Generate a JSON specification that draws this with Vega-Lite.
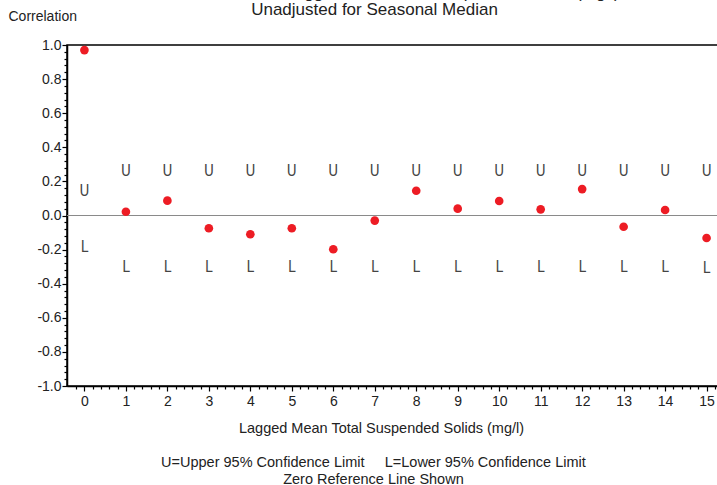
{
  "$schema": "https://vega.github.io/schema/vega-lite/v6.json",
  "autosize": {"type": "none"},
  "padding": {"left": 67, "top": 45, "right": 0, "bottom": 99},
  "width": 657,
  "height": 341,
  "background": "white",
  "config": {
    "font": "Liberation Sans",
    "view": {"stroke": "black", "strokeWidth": 1.5},
    "axis": {"grid": false, "domainColor": "black", "domainWidth": 1.5, "tickColor": "black", "labelColor": "#222", "titleColor": "#222", "titleFontWeight": "normal", "labelFont": "Liberation Sans", "titleFont": "Liberation Sans", "labelOverlap": false, "labelBound": false, "labelFlush": false}
  },
  "title": {
    "text": ["Cross Correlation of Lagged Mean Total Suspended Solids (mg/l)", "Unadjusted for Seasonal Median"],
    "fontSize": 17,
    "fontWeight": "normal",
    "font": "Liberation Sans",
    "color": "#222",
    "lineHeight": 17.5,
    "anchor": "middle",
    "baseline": "bottom",
    "dx": -21,
    "dy": 50,
    "offset": 23
  },
  "data": {
    "values": [
      {"lag": 0, "corr": 0.97, "upper": 0.144, "lower": -0.185},
      {"lag": 1, "corr": 0.022, "upper": 0.263, "lower": -0.3},
      {"lag": 2, "corr": 0.087, "upper": 0.263, "lower": -0.3},
      {"lag": 3, "corr": -0.075, "upper": 0.263, "lower": -0.3},
      {"lag": 4, "corr": -0.11, "upper": 0.263, "lower": -0.3},
      {"lag": 5, "corr": -0.075, "upper": 0.263, "lower": -0.3},
      {"lag": 6, "corr": -0.198, "upper": 0.263, "lower": -0.3},
      {"lag": 7, "corr": -0.03, "upper": 0.263, "lower": -0.3},
      {"lag": 8, "corr": 0.145, "upper": 0.263, "lower": -0.3},
      {"lag": 9, "corr": 0.04, "upper": 0.263, "lower": -0.3},
      {"lag": 10, "corr": 0.085, "upper": 0.263, "lower": -0.3},
      {"lag": 11, "corr": 0.036, "upper": 0.263, "lower": -0.3},
      {"lag": 12, "corr": 0.155, "upper": 0.263, "lower": -0.3},
      {"lag": 13, "corr": -0.066, "upper": 0.263, "lower": -0.3},
      {"lag": 14, "corr": 0.032, "upper": 0.263, "lower": -0.3},
      {"lag": 15, "corr": -0.132, "upper": 0.263, "lower": -0.305}
    ]
  },
  "layer": [
    {
      "mark": {"type": "rule", "color": "#8a8a8a", "strokeWidth": 1},
      "encoding": {
        "y": {"datum": 0, "type": "quantitative", "scale": {"domain": [-1, 1], "nice": false, "zero": false}}
      }
    },
    {
      "mark": {"type": "circle", "color": "#ED1C24", "opacity": 1, "size": 75},
      "encoding": {
        "x": {
          "field": "lag", "type": "quantitative",
          "scale": {"domain": [-0.42, 15.42], "nice": false, "zero": false},
          "axis": {
            "orient": "bottom",
            "tickCount": 1000,
            "values": [-0.2,0,0.2,0.4,0.6,0.8,1,1.2,1.4,1.6,1.8,2,2.2,2.4,2.6,2.8,3,3.2,3.4,3.6,3.8,4,4.2,4.4,4.6,4.8,5,5.2,5.4,5.6,5.8,6,6.2,6.4,6.6,6.8,7,7.2,7.4,7.6,7.8,8,8.2,8.4,8.6,8.8,9,9.2,9.4,9.6,9.8,10,10.2,10.4,10.6,10.8,11,11.2,11.4,11.6,11.8,12,12.2,12.4,12.6,12.8,13,13.2,13.4,13.6,13.8,14,14.2,14.4,14.6,14.8,15,15.2,15.4],
            "labelExpr": "abs(datum.value - round(datum.value)) < 0.001 ? format(datum.value, 'd') : ''",
            "tickSize": {"condition": {"test": "abs(datum.value - round(datum.value)) < 0.001", "value": 5}, "value": 3},
            "tickWidth": 1.2,
            "labelFontSize": 14, "labelPadding": 3,
            "title": ["Lagged Mean Total Suspended Solids (mg/l)", "\u200b", "U=Upper 95% Confidence Limit\u00a0\u00a0\u00a0\u00a0\u00a0L=Lower 95% Confidence Limit\u00a0\u00a0\u00a0\u00a0\u200b", "Zero Reference Line Shown\u00a0\u00a0\u00a0\u00a0\u200b"],
            "titleFontSize": 14.5,
            "titleLineHeight": 17,
            "titleAlign": "center",
            "titleAnchor": null,
            "titleX": 314,
            "titleY": 35,
            "titleBaseline": "top"
          }
        },
        "y": {
          "field": "corr", "type": "quantitative",
          "scale": {"domain": [-1, 1], "nice": false, "zero": false},
          "axis": {
            "orient": "left",
            "tickCount": 1000,
            "values": [-1,-0.96,-0.92,-0.88,-0.84,-0.8,-0.76,-0.72,-0.68,-0.64,-0.6,-0.56,-0.52,-0.48,-0.44,-0.4,-0.36,-0.32,-0.28,-0.24,-0.2,-0.16,-0.12,-0.08,-0.04,0,0.04,0.08,0.12,0.16,0.2,0.24,0.28,0.32,0.36,0.4,0.44,0.48,0.52,0.56,0.6,0.64,0.68,0.72,0.76,0.8,0.84,0.88,0.92,0.96,1],
            "labelExpr": "abs(datum.value * 5 - round(datum.value * 5)) < 0.001 ? replace(format(datum.value, '.1f'), '\u2212', '-') : ''",
            "tickSize": {"condition": {"test": "abs(datum.value * 5 - round(datum.value * 5)) < 0.001", "value": 5}, "value": 3},
            "tickWidth": 1.2,
            "labelFontSize": 14, "labelPadding": 1,
            "title": "Correlation",
            "titleFontSize": 14,
            "titleAngle": 0,
            "titleAlign": "left",
            "titleBaseline": "middle",
            "titleAnchor": null,
            "titleX": -59,
            "titleY": -29
          }
        }
      }
    },
    {
      "mark": {"type": "text", "text": "U", "font": "Liberation Sans Narrow, DejaVu Sans Condensed, Liberation Sans", "fontSize": 15, "color": "#444444", "baseline": "middle", "align": "center"},
      "encoding": {
        "x": {"field": "lag", "type": "quantitative"},
        "y": {"field": "upper", "type": "quantitative"}
      }
    },
    {
      "mark": {"type": "text", "text": "L", "font": "Liberation Sans Narrow, DejaVu Sans Condensed, Liberation Sans", "fontSize": 15, "color": "#444444", "baseline": "middle", "align": "center"},
      "encoding": {
        "x": {"field": "lag", "type": "quantitative"},
        "y": {"field": "lower", "type": "quantitative"}
      }
    }
  ]
}
